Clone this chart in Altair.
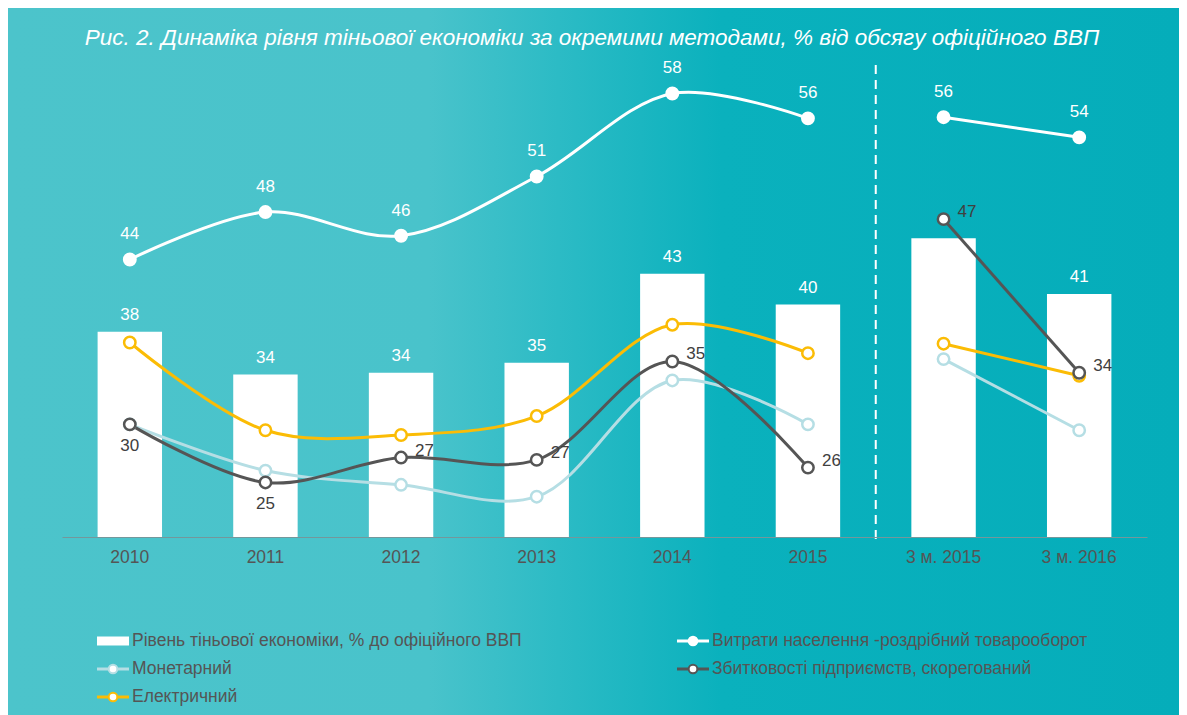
import altair as alt
import pandas as pd

# ---------------- data ----------------
categories = ["2010", "2011", "2012", "2013", "2014", "2015", "3 м. 2015", "3 м. 2016"]
periods = ["роки"] * 6 + ["квартали"] * 2

shadow_level = [37.9, 34.3, 34.45, 35.3, 42.8, 40.2, 45.8, 41.1]
shadow_labels = ["38", "34", "34", "35", "43", "40", "", "41"]

spending = [44.0, 48.0, 46.0, 51.0, 58.0, 55.9, 56.0, 54.3]
monetary = [30.1, 26.2, 25.0, 24.0, 33.8, 30.1, 35.6, 29.6]
losses = [30.1, 25.2, 27.3, 27.1, 35.4, 26.45, 47.4, 34.45]
electric = [37.0, 29.6, 29.2, 30.8, 38.5, 36.1, 36.9, 34.2]

S_BAR = "Рівень тіньової економіки, % до офіційного ВВП"
S_SPEND = "Витрати населення -роздрібний товарооборот"
S_MON = "Монетарний"
S_LOSS = "Збитковості підприємств, скорегований"
S_ELEC = "Електричний"
legend_order = [S_BAR, S_SPEND, S_MON, S_LOSS, S_ELEC]
series_colors = ["#ffffff", "#ffffff", "#b5dee4", "#555555", "#fbbc05"]

title_text = "Рис. 2. Динаміка рівня тіньової економіки за окремими методами, % від обсягу офіційного ВВП"
below_label_cats = ["2010", "2011"]
Y_MIN, Y_MAX = 20.6, 60.4

# ---------------- layout ----------------
W, H = 1085, 472
PAD_L, PAD_T, PAD_R, PAD_B = 54, 57, 32, 178
FONT = "Liberation Sans"
TEXT_GREY = "#555555"

bars_df = pd.DataFrame({"cat": categories, "period": periods, "value": shadow_level,
                        "label": shadow_labels, "series": S_BAR})
rows = []
for name, vals in [(S_MON, monetary), (S_ELEC, electric), (S_LOSS, losses), (S_SPEND, spending)]:
    for c, p, v in zip(categories, periods, vals):
        rows.append({"series": name, "cat": c, "period": p, "value": v})
lines_df = pd.DataFrame(rows)

x_scale = alt.Scale(domain=categories, paddingInner=0, paddingOuter=0)
y_scale = alt.Scale(domain=[Y_MIN, Y_MAX], zero=False, nice=False)
X = alt.X("cat:N", scale=x_scale, sort=categories,
          axis=alt.Axis(title=None, labelAngle=0, ticks=False, grid=False,
                        domainColor="#74979b", domainWidth=1, labelColor=TEXT_GREY,
                        labelFont=FONT, labelFontSize=17.5, labelPadding=11, zindex=1))
Y = alt.Y("value:Q", scale=y_scale, axis=None)
color_scale = alt.Scale(domain=legend_order, range=series_colors)
C = alt.Color("series:N", scale=color_scale, legend=None)
S = alt.Stroke("series:N", scale=color_scale, legend=None)

gradient = {
    "gradient": "linear", "x1": 0, "y1": 0, "x2": 1, "y2": 0,
    "stops": [
        {"offset": 0.0, "color": "#4cc4cb"},
        {"offset": 0.36, "color": "#49c3cb"},
        {"offset": 0.47, "color": "#2cbbc5"},
        {"offset": 0.61, "color": "#0ab1bd"},
        {"offset": 1.0, "color": "#05adba"},
    ],
}
bg = alt.Chart(pd.DataFrame({"k": [0]})).mark_rect(fill=gradient).encode(
    x=alt.value(-PAD_L), x2=alt.value(W + PAD_R), y=alt.value(-PAD_T), y2=alt.value(H + PAD_B)
)

title = alt.Chart(pd.DataFrame({"t": [title_text]})).mark_text(
    font=FONT, fontSize=22.5, fontStyle="italic", color="white", align="center", baseline="middle"
).encode(text="t:N", x=alt.value(530), y=alt.value(-27))

bars = alt.Chart(bars_df).mark_bar(width=alt.RelativeBandSize(band=0.475), fill="white").encode(
    x=X, y=Y, y2=alt.datum(Y_MIN))
bar_labels = alt.Chart(bars_df).mark_text(
    font=FONT, fontSize=17, color="white", baseline="bottom", dy=-8
).encode(x=X, y=Y, text="label:N")

sep = alt.Chart(pd.DataFrame({"cat": [categories[6]]})).mark_rule(
    color="white", strokeWidth=2, strokeDash=[9, 6]
).encode(x=alt.X("cat:N", scale=x_scale, sort=categories, bandPosition=0),
         y=alt.value(0), y2=alt.value(H + 6))

lines = alt.Chart(lines_df).mark_line(interpolate="catmull-rom", strokeWidth=3).encode(
    x=X, y=Y, color=C, detail="period:N"
)
points = alt.Chart(lines_df).mark_point(
    filled=True, fill="white", size=130, strokeWidth=2.5, opacity=1, shape="circle"
).encode(x=X, y=Y, stroke=S)

spend_labels = alt.Chart(lines_df).transform_filter(alt.datum.series == S_SPEND).mark_text(
    font=FONT, fontSize=17, color="white", baseline="middle", dy=-25
).encode(x=X, y=Y, text=alt.Text("value:Q", format=".0f"))

loss_below = alt.Chart(lines_df).transform_filter(alt.datum.series == S_LOSS).transform_filter(
    alt.FieldOneOfPredicate(field="cat", oneOf=below_label_cats)
).mark_text(font=FONT, fontSize=17, color="#404040", baseline="middle", dy=22).encode(
    x=X, y=Y, text=alt.Text("value:Q", format=".0f"))
loss_right = alt.Chart(lines_df).transform_filter(alt.datum.series == S_LOSS).transform_filter(
    ~alt.FieldOneOfPredicate(field="cat", oneOf=below_label_cats)
).mark_text(font=FONT, fontSize=17, color="#404040", baseline="middle", align="left",
            dx=14, dy=-7).encode(x=X, y=Y, text=alt.Text("value:Q", format=".0f"))

main = alt.layer(bg, bars, bar_labels, sep, lines, points, spend_labels, loss_below, loss_right, title)

# ---------------- legend (drawn from its own scales) ----------------
legend_base = alt.Chart(pd.DataFrame({"series": legend_order})).transform_window(
    idx="row_number()"
).transform_calculate(col="(datum.idx - 1) % 2", row="floor((datum.idx - 1) / 2)")
LX = alt.X("col:O", scale=alt.Scale(type="point", domain=[0, 1], range=[51, 631], padding=0), axis=None)
LY = alt.Y("row:O", scale=alt.Scale(type="point", domain=[0, 1, 2], range=[576, 632], padding=0), axis=None)

leg_bar = legend_base.transform_filter(alt.datum.series == S_BAR).mark_tick(
    orient="horizontal", size=32, thickness=9, color="white", opacity=1
).encode(x=LX, y=LY)
leg_line = legend_base.transform_filter(alt.datum.series != S_BAR).mark_tick(
    orient="horizontal", size=32, thickness=3, opacity=1
).encode(x=LX, y=LY, color=C)
leg_pt = legend_base.transform_filter(alt.datum.series != S_BAR).mark_point(
    filled=True, fill="white", size=75, strokeWidth=2, opacity=1, shape="circle"
).encode(x=LX, y=LY, stroke=S)
leg_txt = legend_base.mark_text(
    font=FONT, fontSize=17.5, color=TEXT_GREY, align="left", baseline="middle", dx=19
).encode(x=LX, y=LY, text="series:N")
legend = alt.layer(leg_bar, leg_line, leg_pt, leg_txt)

chart = alt.layer(main, legend).resolve_scale(x="independent", y="independent").properties(
    width=W, height=H,
    padding={"left": PAD_L, "top": PAD_T, "right": PAD_R, "bottom": PAD_B},
    autosize=alt.AutoSizeParams(type="none"),
).configure_view(stroke=None).configure(background="#ffffff", font=FONT)

chart.save("out.html", embed_options={"renderer": "svg", "actions": False})
